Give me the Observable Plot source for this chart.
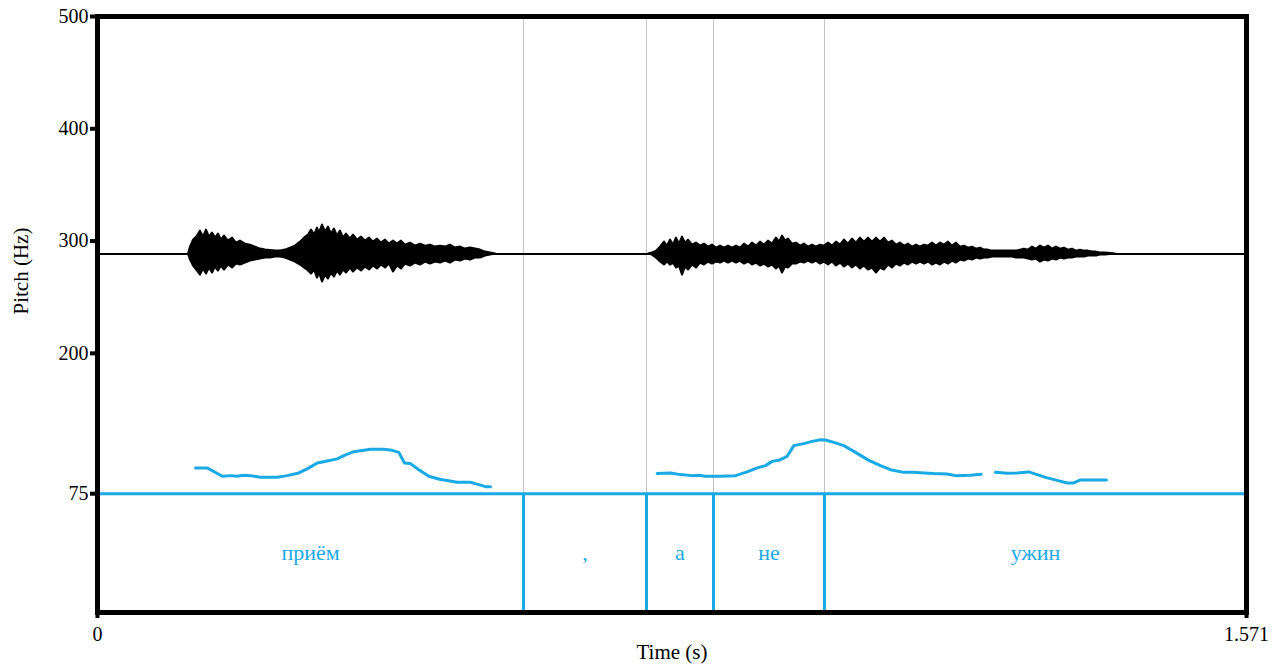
<!DOCTYPE html>
<html><head><meta charset="utf-8">
<script src="https://cdn.jsdelivr.net/npm/d3@7"></script>
<script src="https://cdn.jsdelivr.net/npm/@observablehq/plot@0.6"></script>
<style>
html,body{margin:0;padding:0;background:#fff;}
svg, svg text { font-family: "Liberation Serif", "Times New Roman", serif !important; }
</style>
</head><body><div id="chart"></div>
<script>
// ---- axes ----
const timeDomain = [0, 1.571];
const timeTicks = [0, 1.571];
const timeTickLabels = ["0", "1.571"];
const pitchTicks = [75, 200, 300, 400, 500];
const pitchTop = 500;
const tierBottom = -30.8;   // lower edge of the text-grid tier, in axis units
const tierTop = 75;

// ---- text grid (words) ----
const boundaries = [0.5825, 0.7506, 0.8422, 0.994];
const words = ["приём", ",", "а", "не", "ужин"];

// ---- pitch contour (s, Hz), three voiced stretches ----
const pitchT1 = [0.1340,0.1500,0.1705,0.1818,0.1910,0.2000,0.2092,0.2229,0.2457,0.2594,0.2752,0.2867,0.3004,0.3141,0.3277,0.3368,0.3504,0.3733,0.3914,0.4029,0.4120,0.4197,0.4280,0.4393,0.4530,0.4690,0.4781,0.4918,0.5100,0.5213,0.5305,0.5373];
const pitchHz1 = [98.0,98.0,90.5,91.1,90.5,91.4,91.1,89.6,89.6,91.1,93.5,97.1,102.4,104.2,106.0,108.9,112.4,114.5,114.5,113.6,111.8,102.4,101.8,96.4,90.5,87.6,86.7,85.2,85.2,83.1,81.3,81.3];
const pitchT2 = [0.7652,0.7834,0.7971,0.8131,0.8221,0.8313,0.8518,0.8723,0.8883,0.9020,0.9133,0.9225,0.9315,0.9430,0.9520,0.9657,0.9772,0.9885,0.9953,1.0067,1.0204,1.0364,1.0546,1.0706,1.0842,1.1024,1.1161,1.1298,1.1434,1.1617,1.1731,1.1936,1.2082];
const pitchHz2 = [92.9,93.5,92.0,91.1,91.4,90.5,90.5,91.1,94.4,98.0,100.0,103.8,104.7,108.3,117.8,119.6,121.6,123.1,122.8,120.7,117.8,111.8,104.7,100.0,96.4,94.0,94.0,93.5,92.9,92.6,91.1,91.4,92.3];
const pitchT3 = [1.2278,1.2438,1.2575,1.2733,1.2848,1.2985,1.3121,1.3258,1.3348,1.3440,1.3622,1.3795];
const pitchHz3 = [94.0,93.2,93.5,94.4,92.0,89.1,86.9,84.6,84.6,87.3,87.3,87.3];

// ---- waveform envelope (s, relative amplitude up / down) ----
const waveCenter = 288.4;     // where the sound's zero line sits on the pitch axis
const waveScale = 0.889;      // axis units per amplitude unit
const waveT1 = [0.1244,0.1272,0.1313,0.1367,0.1408,0.1449,0.1490,0.1531,0.1572,0.1613,0.1654,0.1695,0.1736,0.1791,0.1846,0.1900,0.1955,0.2024,0.2092,0.2160,0.2229,0.2297,0.2365,0.2434,0.2502,0.2570,0.2639,0.2707,0.2776,0.2830,0.2885,0.2926,0.2967,0.3008,0.3035,0.3076,0.3117,0.3158,0.3199,0.3240,0.3281,0.3322,0.3363,0.3404,0.3459,0.3500,0.3555,0.3610,0.3664,0.3719,0.3774,0.3828,0.3883,0.3938,0.3992,0.4047,0.4102,0.4156,0.4211,0.4280,0.4348,0.4416,0.4485,0.4553,0.4621,0.4690,0.4758,0.4826,0.4895,0.4963,0.5032,0.5100,0.5168,0.5237,0.5305,0.5373,0.5442];
const waveUp1 = [0,7,14,18,23,17,24,17,21,16, 20,14,18,13,16,11,13,10,9,7, 5,4,3.5,3,3,4,6,8,12,16, 19,24,19,26,21,29,22,27,20,25, 18,23,16,20,15,19,14,17,13,16, 12,15,11,14,10,13,10,13,9,11, 8,10,8,9,7,8,7,9,6,7, 5,6,5,4,2,1,0];
const waveDown1 = [0,6,12,17,21,15,20,14,19,13, 17,12,16,11,14,10,11,9,7,6, 5,4,4,3,3,4,6,8,11,14, 17,20,16,24,19,28,21,25,19,23, 17,21,16,19,14,18,14,17,13,16, 12,15,11,14,10,18,12,15,10,12, 9,11,8,10,8,9,7,9,6,7, 5,6,4,4,2,1,0];
const waveT2 = [0.7534,0.7588,0.7643,0.7698,0.7752,0.7793,0.7834,0.7875,0.7916,0.7957, 0.7998,0.8039,0.8080,0.8135,0.8190,0.8244,0.8299,0.8354,0.8408,0.8463, 0.8518,0.8573,0.8627,0.8682,0.8737,0.8791,0.8846,0.8901,0.8955,0.9010, 0.9065,0.9119,0.9174,0.9229,0.9283,0.9325,0.9366,0.9407,0.9448,0.9502, 0.9557,0.9612,0.9666,0.9721,0.9776,0.9830,0.9885,0.9940,0.9995,1.0049, 1.0104,1.0159,1.0213,1.0268,1.0323,1.0377,1.0432,1.0487,1.0541,1.0596, 1.0651,1.0706,1.0760,1.0815,1.0870,1.0924,1.0979,1.1034,1.1088,1.1143, 1.1198,1.1252,1.1307,1.1362,1.1416,1.1471,1.1526,1.1581,1.1635,1.1690, 1.1745,1.1799,1.1854,1.1909,1.1963,1.2018,1.2073,1.2127,1.2182,1.2237, 1.2292,1.2346,1.2401,1.2456,1.2510,1.2565,1.2620,1.2674,1.2729,1.2784, 1.2838,1.2893,1.2948,1.3002,1.3057,1.3112,1.3166,1.3221,1.3276,1.3331, 1.3385,1.3440,1.3495,1.3549,1.3604,1.3659,1.3713,1.3782,1.3850,1.3918];
const waveUp2 = [0,1,3,7,12,8,14,9,16,10, 17,11,14,9,11,8,10,7,9,6, 8,6,8,6,8,6,10,7,11,8, 12,9,13,10,16,12,18,13,15,10, 11,8,10,7,9,7,9,8,11,8, 12,9,14,10,15,11,16,12,16,12, 16,12,16,11,13,9,11,8,10,7, 9,7,9,8,11,8,11,9,12,8, 11,7,8,6,7,5,6,4,4,3, 3,3,3,3,3,3,4,5,4,7, 5,8,6,8,5,7,5,6,4,5, 3,4,3,3,2,2,1,1,0.5,0];
const waveDown2 = [0,1,4,8,11,8,11,9,14,12, 21,13,16,11,14,9,11,8,10,8, 9,7,9,7,9,7,10,8,11,9, 12,10,13,11,15,12,19,13,14,10, 10,8,9,7,9,7,10,8,11,8, 12,9,13,10,14,11,15,12,16,14, 19,14,16,11,14,10,12,9,11,8, 10,8,10,8,11,9,11,8,10,7, 9,6,7,5,6,4,5,4,4,3, 3,3,3,3,3,4,4,4,5,6, 5,8,6,7,5,6,4,5,4,4, 3,3,3,2,2,2,1,1,0.5,0];

// ---- build tables ----
const blue = "#19a9e5";
const serif = "'Liberation Serif', 'Times New Roman', serif";
const pitch = [
  ...pitchT1.map((t, i) => ({t, hz: pitchHz1[i], seg: 1})),
  ...pitchT2.map((t, i) => ({t, hz: pitchHz2[i], seg: 2})),
  ...pitchT3.map((t, i) => ({t, hz: pitchHz3[i], seg: 3}))
];
const wave = [
  ...waveT1.map((t, i) => ({t, up: waveUp1[i], down: waveDown1[i], seg: 1})),
  ...waveT2.map((t, i) => ({t, up: waveUp2[i], down: waveDown2[i], seg: 2}))
];
const edges = [timeDomain[0], ...boundaries, timeDomain[1]];
const intervals = words.map((w, i) => ({text: w, mid: (edges[i] + edges[i + 1]) / 2}));
const tierMid = (tierTop + tierBottom) / 2;

const chart = Plot.plot({
  width: 1283,
  height: 671,
  marginLeft: 97,
  marginRight: 37,
  marginTop: 16,
  marginBottom: 59,
  style: {fontFamily: serif, fontSize: "19px", background: "#fff", color: "#000"},
  x: {domain: timeDomain},
  y: {domain: [tierBottom, pitchTop]},
  marks: [
    // grey boundary guides above the tier
    Plot.ruleX(boundaries, {y1: tierTop, y2: pitchTop, stroke: "#c4c4c4", strokeWidth: 1}),
    // waveform
    Plot.ruleY([waveCenter], {stroke: "#000", strokeWidth: 2}),
    Plot.areaY(wave, {x: "t", y1: d => waveCenter - d.down * waveScale, y2: d => waveCenter + d.up * waveScale, z: "seg", fill: "#000", stroke: "#000", strokeWidth: 2, strokeLinejoin: "round", curve: "linear"}),
    // pitch contour
    Plot.line(pitch, {x: "t", y: "hz", z: "seg", stroke: blue, strokeWidth: 3, strokeLinejoin: "round"}),
    // text grid tier
    Plot.ruleY([tierTop], {stroke: blue, strokeWidth: 3}),
    Plot.ruleX(boundaries, {y1: tierBottom, y2: tierTop, stroke: blue, strokeWidth: 3}),
    Plot.text(intervals, {x: "mid", y: tierMid, text: "text", fill: blue, fontSize: 22, fontFamily: serif}),
    // axes
    Plot.axisY({ticks: pitchTicks, tickSize: 7, tickPadding: 2, strokeWidth: 4, label: null, fontSize: 20, fontFamily: serif}),
    Plot.axisX({ticks: timeTicks, tickSize: 6, tickPadding: 8, strokeWidth: 4, tickFormat: (d, i) => timeTickLabels[i], label: null, fontSize: 20, fontFamily: serif}),
    Plot.text(["Pitch (Hz)"], {frameAnchor: "left", dx: -76, rotate: -90, fontSize: 21, fontFamily: serif}),
    Plot.text(["Time (s)"], {frameAnchor: "bottom", dy: 46, fontSize: 21, fontFamily: serif}),
    Plot.frame({stroke: "#000", strokeWidth: 5})
  ]
});
document.getElementById("chart").append(chart);
</script>
</body></html>
